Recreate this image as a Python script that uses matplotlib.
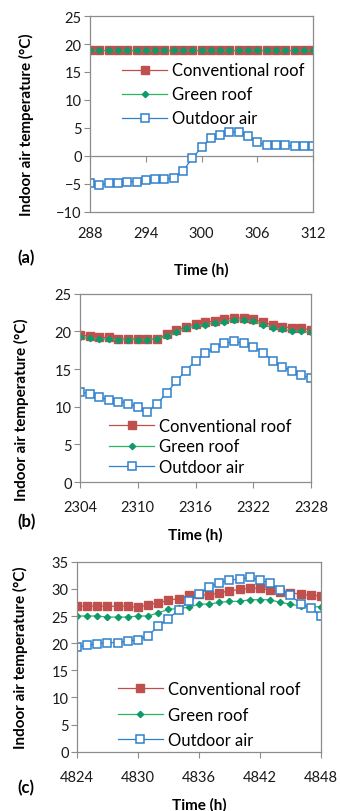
import numpy as np
import matplotlib.pyplot as plt

plt.rcParams['font.family'] = ['Lato', 'DejaVu Sans']

# panel (a)
hours_a = np.arange(288, 313)
conv_a = [19.0] * 25
green_a = [19.0] * 25
out_a = [-4.9, -5.2, -4.9, -4.9, -4.6, -4.6, -4.4, -4.2, -4.2, -3.9, -2.7, -0.4, 1.5,
         3.2, 3.8, 4.3, 4.3, 3.6, 2.4, 1.9, 1.9, 1.9, 1.7, 1.7, 1.7]

# panel (b)
hours_b = np.arange(2304, 2329)
conv_b = [19.5, 19.4, 19.2, 19.2, 19.0, 19.0, 19.0, 19.0, 19.0, 19.6, 20.2, 20.6, 21.0,
          21.2, 21.4, 21.6, 21.8, 21.8, 21.7, 21.2, 20.9, 20.6, 20.5, 20.4, 20.2]
green_b = [19.2, 19.1, 19.0, 19.0, 18.9, 18.9, 18.9, 18.9, 19.0, 19.4, 19.9, 20.4, 20.7,
           20.9, 21.1, 21.3, 21.5, 21.5, 21.4, 20.9, 20.5, 20.3, 20.1, 20.0, 19.9]
out_b = [12.0, 11.7, 11.3, 10.9, 10.7, 10.4, 10.0, 9.3, 10.4, 11.8, 13.4, 14.8, 16.1,
         17.1, 17.8, 18.4, 18.7, 18.4, 18.0, 17.2, 16.1, 15.3, 14.8, 14.2, 13.8]

# panel (c)
hours_c = np.arange(4824, 4849)
conv_c = [26.8, 26.8, 26.8, 26.8, 26.8, 26.8, 26.6, 27.1, 27.4, 27.9, 28.2, 28.8, 29.0,
          28.8, 29.3, 29.6, 29.9, 30.1, 30.1, 29.8, 29.5, 29.3, 29.0, 28.8, 28.7]
green_c = [25.0, 25.0, 25.0, 24.8, 24.8, 24.8, 25.0, 25.0, 25.6, 26.2, 26.4, 26.6, 27.2,
           27.2, 27.5, 27.7, 27.7, 28.0, 28.0, 28.0, 27.5, 27.2, 26.8, 26.7, 26.7]
out_c = [19.3, 19.6, 19.9, 20.1, 20.1, 20.4, 20.6, 21.4, 23.1, 24.5, 26.1, 27.7, 29.0,
         30.3, 31.1, 31.6, 31.8, 32.1, 31.6, 31.1, 29.8, 28.8, 27.3, 26.4, 25.0]

series_names = ['Conventional roof', 'Green roof', 'Outdoor air']
RED = '#C0504D'
GREEN = '#2DB560'
GREEN_MK = '#0E9A6A'
BLUE = '#2F80CC'
GRID = '#8C8C8C'

fig = plt.figure(figsize=(3.4, 8.12), dpi=100)

panels = [
    dict(rect=[0.265, 0.738, 0.656, 0.241], x=hours_a, ys=(conv_a, green_a, out_a),
         ylim=(-10, 25), tag='(a)', tag_y=0.682, xlab_y=0.667,
         leg=(0.359, 0.922), lsp=0.48, ylab=(0.078, 0.846)),
    dict(rect=[0.235, 0.405, 0.680, 0.232], x=hours_b, ys=(conv_b, green_b, out_b),
         ylim=(0, 25), tag='(b)', tag_y=0.357, xlab_y=0.341,
         leg=(0.321, 0.484), lsp=0.27, ylab=(0.062, 0.495)),
    dict(rect=[0.226, 0.073, 0.718, 0.234], x=hours_c, ys=(conv_c, green_c, out_c),
         ylim=(0, 35), tag='(c)', tag_y=0.030, xlab_y=0.008,
         leg=(0.347, 0.160), lsp=0.57, ylab=(0.060, 0.190)),
]

for p in panels:
    ax = fig.add_axes(p['rect'])
    x = p['x']
    conv, green, out = p['ys']
    ax.plot(x, conv, color=RED, lw=0.9, marker='s', ms=5.2, mfc=RED, mec=RED,
            label=series_names[0])
    ax.plot(x, green, color=GREEN, lw=0.9, marker='D', ms=3.2, mfc=GREEN_MK, mec=GREEN_MK,
            label=series_names[1])
    ax.plot(x, out, color=BLUE, lw=0.9, marker='s', ms=5.2, mfc='white', mec=BLUE, mew=1.1,
            label=series_names[2])

    ax.set_xlim(x[0], x[-1])
    ax.set_ylim(*p['ylim'])
    ax.set_xticks(np.arange(x[0], x[-1] + 1, 6))
    ax.set_yticks(np.arange(p['ylim'][0], p['ylim'][1] + 1, 5))
    for s in ax.spines.values():
        s.set_color(GRID)
        s.set_linewidth(0.9)
    ax.tick_params(axis='y', direction='out', length=4, width=0.8, color=GRID,
                   labelsize=10.5, pad=2, labelcolor='#1a1a1a')
    ax.tick_params(axis='x', direction='out', length=4, width=0.8, color=GRID,
                   labelsize=10.5, pad=9, labelcolor='#1a1a1a')

    if p['ylim'][0] < 0:
        # horizontal axis crosses at zero, labels kept low
        ax.tick_params(axis='x', length=0, pad=10)
        lo, hi = p['ylim']
        sec = ax.secondary_xaxis((0 - lo) / (hi - lo))
        sec.set_xticks(ax.get_xticks())
        sec.tick_params(direction='out', length=4, width=0.8, color=GRID, labelbottom=False,
                        labeltop=False)
        sec.spines['bottom'].set_color(GRID)
        sec.spines['bottom'].set_linewidth(0.9)

    ax.legend(loc='upper left', bbox_to_anchor=p['leg'], bbox_transform=fig.transFigure,
              frameon=False, fontsize=12, handlelength=2.7, handletextpad=0.3,
              labelspacing=p['lsp'], borderpad=0, borderaxespad=0)

    cx = p['rect'][0] + p['rect'][2] / 2
    fig.text(cx, p['xlab_y'], 'Time (h)', ha='center', va='center', fontsize=11,
             fontweight='bold')
    fig.text(p['ylab'][0], p['ylab'][1], 'Indoor air temperature (°C)', rotation=90,
             ha='center', va='center', fontsize=11, fontweight='bold')
    fig.text(0.05, p['tag_y'], p['tag'], ha='left', va='center', fontsize=12,
             fontweight='bold')

fig.savefig('out.png', dpi=100)
